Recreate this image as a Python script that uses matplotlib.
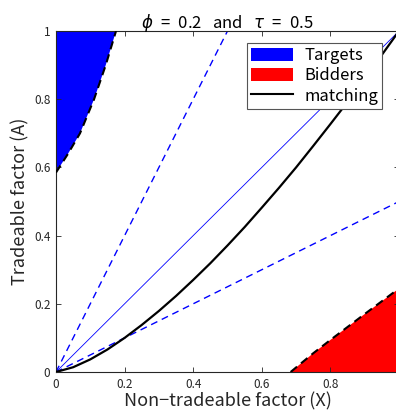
import matplotlib
matplotlib.use("Agg")
import matplotlib.pyplot as plt
from matplotlib.patches import Patch
from matplotlib.lines import Line2D
import numpy as np

plt.rcParams['font.family'] = ['Noto Sans CJK JP', 'DejaVu Sans']
plt.rcParams['mathtext.fontset'] = 'dejavusans'

# Data
# Targets region boundary (upper-left)
target_x = [0.0, 0.035, 0.07, 0.111, 0.145, 0.175]
target_y = [0.585, 0.64, 0.70, 0.80, 0.90, 1.0]
# Bidders region boundary (lower-right)
bidder_x = [0.684, 0.75, 0.80, 0.90, 1.0]
bidder_y = [0.0, 0.055, 0.094, 0.17, 0.245]
# Matching curve
match_x = [0.0, 0.05, 0.1, 0.15, 0.2, 0.25, 0.3, 0.35, 0.4, 0.45, 0.5,
           0.55, 0.6, 0.65, 0.7, 0.75, 0.8, 0.85, 0.9, 0.95, 1.0]
match_y = [0.0, 0.014, 0.037, 0.066, 0.1, 0.138, 0.179, 0.223, 0.27, 0.319, 0.371,
           0.425, 0.482, 0.54, 0.6, 0.663, 0.727, 0.792, 0.86, 0.93, 1.0]
# Reference rays from origin
ray_steep = ([0.0, 0.5], [0.0, 1.0])
ray_diag = ([0.0, 1.0], [0.0, 1.0])
ray_flat = ([0.0, 1.0], [0.0, 0.5])

xticks = [0, 0.2, 0.4, 0.6, 0.8, 1.0]
xticklabels = ['0', '0.2', '0.4', '0.6', '0.8', '']
yticks = [0, 0.2, 0.4, 0.6, 0.8, 1.0]
yticklabels = ['0', '0.2', '0.4', '0.6', '0.8', '1']

fig = plt.figure(figsize=(3.96, 4.16), dpi=100)
ax = fig.add_axes([56/396, 44/416, 343/396, 341/416])

# Targets region
tx = [0.0] + target_x + [0.0]
ty = [target_y[0]] + target_y + [1.0]
ax.fill(tx, ty, color='#0000ff', lw=0, zorder=1)
ax.plot(target_x, target_y, color='black', ls=(0, (4, 2.5)), lw=1.5, zorder=3)

# Bidders region
bx = bidder_x + [1.0, bidder_x[0]]
by = bidder_y + [0.0, 0.0]
ax.fill(bx, by, color='#ff0000', lw=0, zorder=1)
ax.plot(bidder_x, bidder_y, color='black', ls=(0, (4, 2.5)), lw=1.5, zorder=3)

# Rays
ax.plot(*ray_steep, color='#0000ff', ls=(0, (5, 3.5)), lw=1.0, zorder=2)
ax.plot(*ray_diag, color='#0000ff', ls='-', lw=0.6, zorder=2)
ax.plot(*ray_flat, color='#0000ff', ls=(0, (5, 3.5)), lw=1.0, zorder=2)

# Matching
ax.plot(match_x, match_y, color='black', lw=1.6, zorder=3)

ax.set_xlim(0, 1)
ax.set_ylim(0, 1)
ax.set_xticks(xticks)
ax.set_xticklabels(xticklabels)
ax.set_yticks(yticks)
ax.set_yticklabels(yticklabels)
ax.tick_params(direction='in', top=True, right=True, labelsize=8.5,
               length=3.5, width=0.6, colors='#262626', pad=4)
for s in ax.spines.values():
    s.set_linewidth(0.8)
    s.set_color('#262626')

ax.set_xlabel('Non\u2212tradeable factor (X)', fontsize=13, color='#262626', labelpad=1)
ax.set_ylabel('Tradeable factor (A)', fontsize=13, color='#262626', labelpad=3)
ax.set_title(r'$\phi$' + '\u2002=\u20020.2   and   ' + r'$\tau$' + '\u2002=\u20020.5',
             fontsize=12, pad=2)

handles = [Patch(facecolor='#0000ff', edgecolor='none', label='Targets'),
           Patch(facecolor='#ff0000', edgecolor='none', label='Bidders'),
           Line2D([0], [0], color='black', lw=1.5, label='matching')]
leg = ax.legend(handles=handles, loc='upper right', bbox_to_anchor=(0.961, 0.975),
                fontsize=12, fancybox=False, framealpha=1, edgecolor='#555555',
                borderpad=0.25, labelspacing=0.2, handlelength=2.5, handleheight=0.85,
                handletextpad=0.7, borderaxespad=0.2)
leg.get_frame().set_linewidth(0.8)

fig.savefig('out.png', dpi=100)
